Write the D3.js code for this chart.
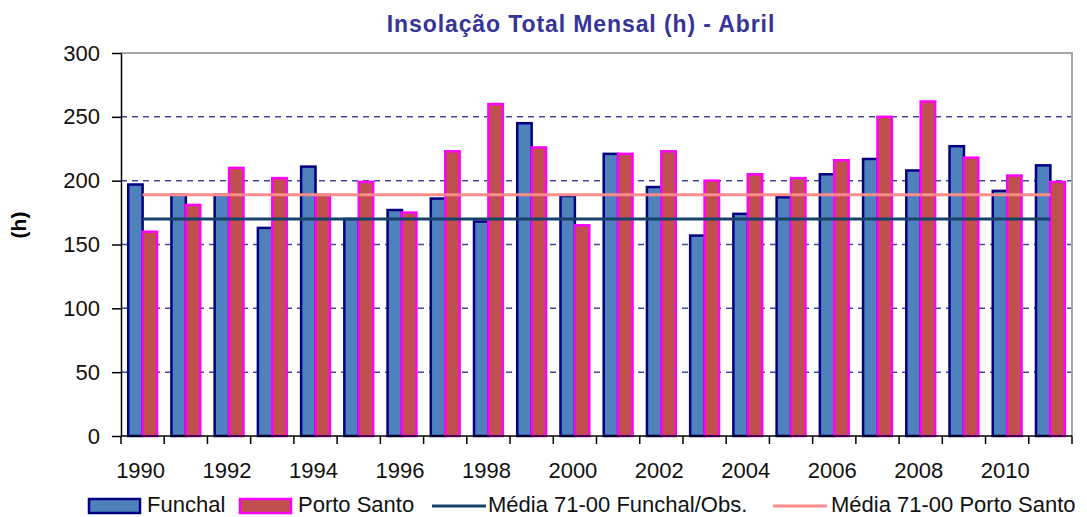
<!DOCTYPE html>
<html>
<head>
<meta charset="utf-8">
<script src="https://cdn.jsdelivr.net/npm/d3@7"></script>
<style>
  body { margin: 0; background: #fff; }
  svg { display: block; }
</style>
</head>
<body>
<script>
// data
var years = d3.range(1990, 2012)
var funchal    = [197, 189, 189, 163, 211, 170, 177, 186, 168, 245, 188, 221, 195, 157, 174, 187, 205, 217, 208, 227, 192, 212]
var portoSanto = [160, 181, 210, 202, 189, 199, 175, 223, 260, 226, 165, 221, 223, 200, 205, 202, 216, 250, 262, 218, 204, 199]
var mediaFunchal = 170
var mediaPortoSanto = 189
var yTicks = [0, 50, 100, 150, 200, 250, 300]
var xLabels = years.filter(y => y % 2 === 0)

var width = 1087, height = 517
var margin = {top: 53, right: 15, bottom: 81, left: 121}
var font = "'Liberation Sans', Arial, sans-serif"

var svg = d3.select("body").append("svg")
    .attr("width", width)
    .attr("height", height)
    .attr("font-family", font)

var x0 = d3.scaleBand()
    .domain(years)
    .range([margin.left, width - margin.right])
var x1 = d3.scaleBand()
    .domain(["funchal", "portoSanto"])
    .range([0, x0.bandwidth()])
    .paddingOuter(0.5)
var y = d3.scaleLinear()
    .domain([0, 300])
    .range([height - margin.bottom, margin.top])

// gridlines
svg.append("g")
    .selectAll("line")
    .data(yTicks.filter(t => t > 0 && t < 300))
    .join("line")
        .attr("x1", margin.left)
        .attr("x2", width - margin.right)
        .attr("y1", d => y(d))
        .attr("y2", d => y(d))
        .attr("stroke", "#4646a0")
        .attr("stroke-width", 1.5)
        .attr("stroke-dasharray", "6,5")

// plot area border (top / right)
svg.append("path")
    .attr("d", `M${margin.left},${y(300)}H${width - margin.right}V${y(0)}`)
    .attr("fill", "none")
    .attr("stroke", "#a6a6a6")
    .attr("stroke-width", 2)

// bars
var series = [
    {key: "funchal", values: funchal, fill: "#4f81bd", stroke: "#000080"},
    {key: "portoSanto", values: portoSanto, fill: "#c0504d", stroke: "#ff00ff"}
]
svg.append("g")
    .selectAll("g")
    .data(series)
    .join("g")
        .attr("fill", d => d.fill)
        .attr("stroke", d => d.stroke)
        .attr("stroke-width", 2.5)
    .selectAll("rect")
    .data(s => s.values.map((v, i) => ({year: years[i], value: v, key: s.key})))
    .join("rect")
        .attr("x", d => x0(d.year) + x1(d.key))
        .attr("width", x1.bandwidth())
        .attr("y", d => y(d.value))
        .attr("height", d => y(0) - y(d.value))

// mean lines, from first to last category centre
var first = x0(years[0]) + x0.bandwidth() / 2
var last = x0(years[years.length - 1]) + x0.bandwidth() / 2
svg.append("line")
    .attr("x1", first).attr("x2", last)
    .attr("y1", y(mediaPortoSanto)).attr("y2", y(mediaPortoSanto))
    .attr("stroke", "#ff8c8c")
    .attr("stroke-width", 3)
svg.append("line")
    .attr("x1", first).attr("x2", last)
    .attr("y1", y(mediaFunchal)).attr("y2", y(mediaFunchal))
    .attr("stroke", "#17406a")
    .attr("stroke-width", 3)

// y axis
svg.append("g")
    .attr("transform", `translate(${margin.left},0)`)
    .call(d3.axisLeft(y).tickValues(yTicks).tickSize(9).tickPadding(12).tickSizeOuter(0))
    .call(g => g.selectAll(".domain, .tick line").attr("stroke", "#000").attr("stroke-width", 1.5))
    .call(g => g.selectAll("text").attr("font-size", 22).attr("font-family", font).attr("fill", "#111"))

// x axis: ticks between categories
var xAxis = svg.append("g")
    .attr("transform", `translate(0,${y(0)})`)
xAxis.append("line")
    .attr("x1", margin.left).attr("x2", width - margin.right)
    .attr("stroke", "#000").attr("stroke-width", 1.5)
xAxis.selectAll(".tk")
    .data(years.concat([null]))
    .join("line")
        .attr("class", "tk")
        .attr("x1", d => d === null ? width - margin.right : x0(d))
        .attr("x2", d => d === null ? width - margin.right : x0(d))
        .attr("y1", 0).attr("y2", 8)
        .attr("stroke", "#000").attr("stroke-width", 1.5)
xAxis.selectAll("text")
    .data(xLabels)
    .join("text")
        .attr("x", d => x0(d) + x0.bandwidth() / 2 - 2)
        .attr("y", 42)
        .attr("text-anchor", "middle")
        .attr("font-size", 22)
        .attr("fill", "#111")
        .text(d => d)

// title
svg.append("text")
    .attr("x", 581)
    .attr("y", 32)
    .attr("text-anchor", "middle")
    .attr("font-size", 23)
    .attr("font-weight", "bold")
    .attr("letter-spacing", 0.9)
    .attr("fill", "#353597")
    .text("Insolação Total Mensal (h) - Abril")

// y title
svg.append("text")
    .attr("transform", "translate(26,225) rotate(-90)")
    .attr("text-anchor", "middle")
    .attr("font-size", 21)
    .attr("font-weight", "bold")
    .text("(h)")

// legend
var legend = [
    {label: "Funchal", type: "rect", fill: "#4f81bd", stroke: "#000080", x: 89, tx: 58},
    {label: "Porto Santo", type: "rect", fill: "#c0504d", stroke: "#ff00ff", x: 240, tx: 58},
    {label: "Média 71-00 Funchal/Obs.", type: "line", stroke: "#17406a", x: 432, tx: 56},
    {label: "Média 71-00 Porto Santo", type: "line", stroke: "#ff8c8c", x: 773, tx: 58}
]
var lg = svg.append("g")
    .selectAll("g")
    .data(legend)
    .join("g")
        .attr("transform", d => `translate(${d.x},506)`)
lg.filter(d => d.type === "rect").append("rect")
    .attr("x", 0).attr("y", -7)
    .attr("width", 51).attr("height", 14)
    .attr("fill", d => d.fill)
    .attr("stroke", d => d.stroke)
    .attr("stroke-width", 2.5)
lg.filter(d => d.type === "line").append("line")
    .attr("x1", 0).attr("x2", 54)
    .attr("stroke", d => d.stroke)
    .attr("stroke-width", 3)
lg.append("text")
    .attr("x", d => d.tx)
    .attr("y", 6)
    .attr("font-size", 22)
    .attr("fill", "#111")
    .text(d => d.label)
</script>
</body>
</html>
